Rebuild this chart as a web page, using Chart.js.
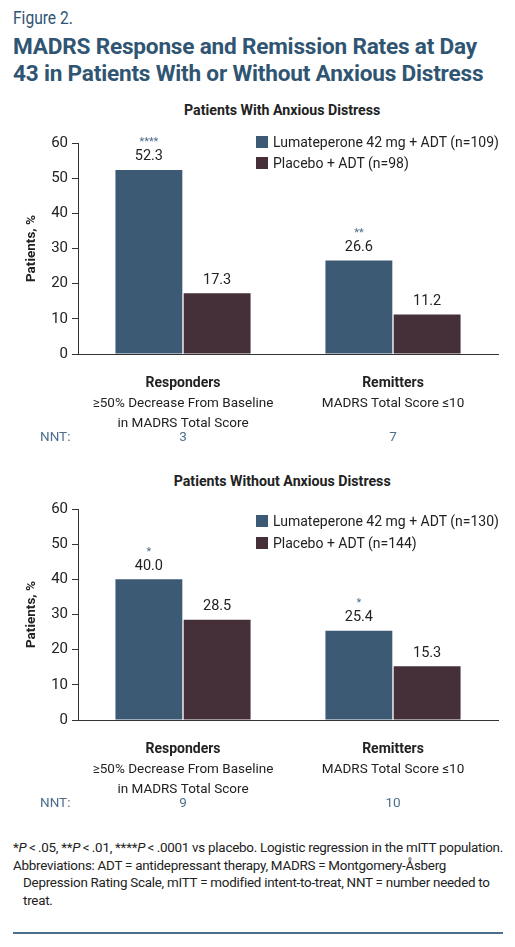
<!DOCTYPE html>
<html><head><meta charset="utf-8">
<script src="https://cdn.jsdelivr.net/npm/chart.js@4"></script>
<style>
body{margin:0;width:515px;height:947px;position:relative;font-family:Roboto,"Liberation Sans",sans-serif;background:#fff;color:#222;overflow:hidden}
.abs{position:absolute}
.fig{left:13px;top:6px;font-size:19px;color:#2f5573;transform:scaleX(0.82);transform-origin:left}
.ttl{left:13px;top:33px;font-size:22.6px;font-weight:bold;color:#2f5573;line-height:27px;letter-spacing:-0.2px}
.sub{font-size:14.2px;font-weight:bold;width:515px;text-align:center;left:0}
.leg{font-size:14px;left:256px}
.leg span{display:inline-block;width:12px;height:12px;margin-right:5px;vertical-align:-1px}
.foot{left:13px;font-size:13.4px;line-height:17.5px;width:492px;letter-spacing:-0.25px}
.foot div{padding-left:10px;text-indent:-10px}
</style></head><body>
<div class="abs fig">Figure 2.</div>
<div class="abs ttl">MADRS Response and Remission Rates at Day<br>43 in Patients With or Without Anxious Distress</div>
<div class="abs sub" style="top:102px">&nbsp;&nbsp;&nbsp;&nbsp;&nbsp;&nbsp;&nbsp;&nbsp;&nbsp;&nbsp;&nbsp;&nbsp;&nbsp;&nbsp;Patients With Anxious Distress</div>
<div class="abs sub" style="top:473px">&nbsp;&nbsp;&nbsp;&nbsp;&nbsp;&nbsp;&nbsp;&nbsp;&nbsp;&nbsp;&nbsp;&nbsp;&nbsp;&nbsp;Patients Without Anxious Distress</div>
<canvas id="c1" class="abs" style="left:0;top:130px"></canvas>
<canvas id="c2" class="abs" style="left:0;top:496px"></canvas>
<div class="abs leg" style="top:134px"><span style="background:#3d5a75"></span>Lumateperone 42 mg + ADT (n=109)</div>
<div class="abs leg" style="top:155px"><span style="background:#45303a"></span>Placebo + ADT (n=98)</div>
<div class="abs leg" style="top:513px"><span style="background:#3d5a75"></span>Lumateperone 42 mg + ADT (n=130)</div>
<div class="abs leg" style="top:535px"><span style="background:#45303a"></span>Placebo + ADT (n=144)</div>
<div class="abs foot" style="top:839px">
<div>*<i>P</i>&thinsp;&lt;&thinsp;.05, **<i>P</i>&thinsp;&lt;&thinsp;.01, ****<i>P</i>&thinsp;&lt;&thinsp;.0001 vs placebo. Logistic regression in the mITT population.</div>
<div>Abbreviations: ADT = antidepressant therapy, MADRS = Montgomery-Åsberg Depression Rating Scale, mITT = modified intent-to-treat, NNT = number needed to treat.</div>
</div>
<div class="abs" style="left:13px;top:932px;width:490px;height:2px;background:#4d6f8c"></div>
<script>
const categories = ['Responders', 'Remitters'];
const catSubLabels = [['≥50% Decrease From Baseline', 'in MADRS Total Score'], ['MADRS Total Score ≤10']];
const withLumat = [52.3, 26.6];
const withPlacebo = [17.3, 11.2];
const withStars = ['****', '**'];
const withNNT = ['3', '7'];
const withoutLumat = [40.0, 25.4];
const withoutPlacebo = [28.5, 15.3];
const withoutStars = ['*', '*'];
const withoutNNT = ['9', '10'];
const yTicks = [0, 10, 20, 30, 40, 50, 60];

const FONT = 'Roboto, "Liberation Sans", sans-serif';

const labelPlugin = {
  id: 'labels',
  afterDatasetsDraw(chart) {
    const ctx = chart.ctx;
    const opts = chart.options.plugins.labels;
    ctx.save();
    ctx.textAlign = 'center';
    chart.data.datasets.forEach((ds, di) => {
      chart.getDatasetMeta(di).data.forEach((bar, i) => {
        ctx.fillStyle = '#222';
        ctx.font = '14.5px ' + FONT;
        ctx.textBaseline = 'bottom';
        ctx.fillText(ds.data[i].toFixed(1), bar.x, bar.y - 6);
        if (di === 0) {
          ctx.fillStyle = '#4d6f8c';
          ctx.font = '11px ' + FONT;
          ctx.fillText(opts.stars[i], bar.x, bar.y - 22);
        }
      });
    });
    const x = chart.scales.x;
    const b = chart.chartArea.bottom;
    ctx.textBaseline = 'middle';
    categories.forEach((c, i) => {
      const cx = x.getPixelForValue(i);
      ctx.fillStyle = '#222';
      ctx.font = 'bold 14px ' + FONT;
      ctx.fillText(c, cx, b + 29);
      ctx.font = '13.5px ' + FONT;
      catSubLabels[i].forEach((t, j) => ctx.fillText(t, cx, b + 50 + j * 20));
      ctx.fillStyle = '#4d6f8c';
      ctx.font = '13.5px ' + FONT;
      ctx.fillText(opts.nnt[i], cx, b + 84);
    });
    ctx.textAlign = 'left';
    ctx.fillText('NNT:', 40, b + 84);
    ctx.restore();
  }
};

function makeChart(id, lum, pla, stars, nnt) {
  const cv = document.getElementById(id);
  cv.width = 515; cv.height = 320;
  cv.style.width = '515px'; cv.style.height = '320px';
  return new Chart(cv, {
    type: 'bar',
    data: {
      labels: categories,
      datasets: [
        { data: lum, backgroundColor: '#3d5a75', barPercentage: 0.98, categoryPercentage: 0.65 },
        { data: pla, backgroundColor: '#45303a', barPercentage: 0.98, categoryPercentage: 0.65 }
      ]
    },
    options: {
      responsive: false,
      animation: false,
      devicePixelRatio: 1,
      layout: { padding: { top: 12, right: 17, bottom: 88, left: 24 } },
      plugins: { legend: { display: false }, tooltip: { enabled: false }, labels: { stars, nnt } },
      scales: {
        x: {
          ticks: { display: false },
          grid: { display: false },
          border: { color: '#333', width: 1 }
        },
        y: {
          min: 0, max: 60,
          afterFit: s => { s.width = 54; },
          afterBuildTicks: s => { s.ticks = yTicks.map(v => ({ value: v })); },
          ticks: { color: '#222', font: { size: 15, family: FONT }, padding: 4 },
          grid: { drawOnChartArea: false, tickLength: 6, color: '#333' },
          border: { color: '#333', width: 1 },
          title: { display: true, text: 'Patients, %', color: '#222', font: { size: 13.5, weight: 'bold', family: FONT }, padding: 0 }
        }
      }
    },
    plugins: [labelPlugin]
  });
}

makeChart('c1', withLumat, withPlacebo, withStars, withNNT);
makeChart('c2', withoutLumat, withoutPlacebo, withoutStars, withoutNNT);
</script>
</body></html>
